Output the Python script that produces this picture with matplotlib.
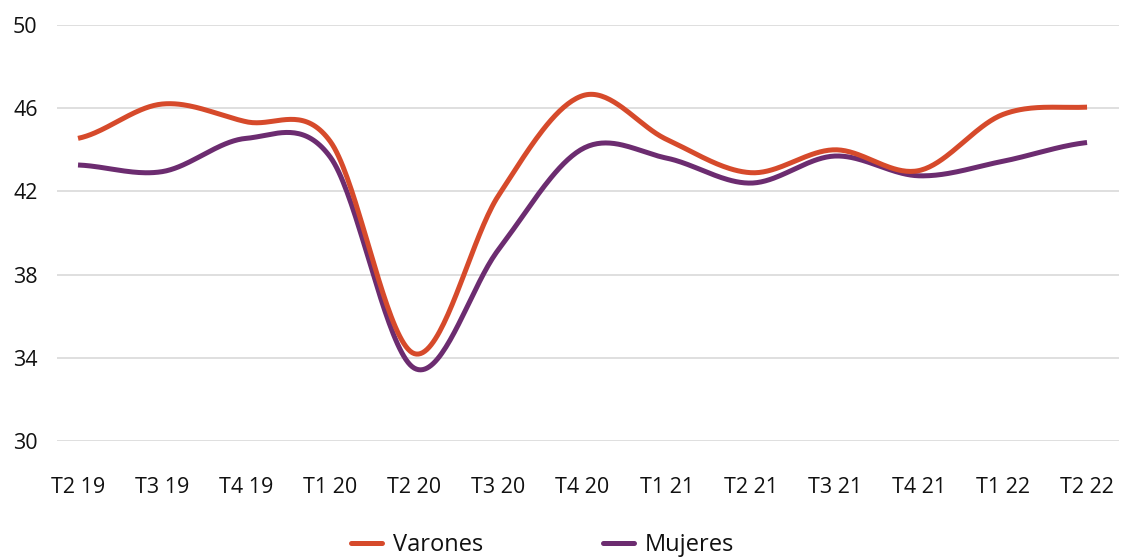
import matplotlib
matplotlib.use("Agg")
import matplotlib.pyplot as plt
import numpy as np

trimestres = ["T2 19", "T3 19", "T4 19", "T1 20", "T2 20", "T3 20", "T4 20",
              "T1 21", "T2 21", "T3 21", "T4 21", "T1 22", "T2 22"]
varones = [44.55, 46.2, 45.35, 44.4, 34.2, 41.8, 46.6, 44.5, 42.9, 44.0, 43.0, 45.7, 46.05]
mujeres = [43.27, 42.95, 44.55, 43.65, 33.5, 39.2, 44.05, 43.6, 42.4, 43.7, 42.75, 43.45, 44.35]

color_varones = "#D64A2B"
color_mujeres = "#6C2C70"


def suavizar(y, pasos=40):
    # curva tipo Catmull-Rom que pasa por todos los puntos (como las líneas suavizadas de Excel)
    y = np.asarray(y, dtype=float)
    n = len(y)
    ext = np.concatenate([[y[0]], y, [y[-1]]])
    xs, ys = [], []
    for i in range(n - 1):
        p0, p1, p2, p3 = ext[i], ext[i + 1], ext[i + 2], ext[i + 3]
        m1 = (p2 - p0) / 2
        m2 = (p3 - p1) / 2
        t = np.linspace(0, 1, pasos, endpoint=(i == n - 2))
        h00 = 2 * t**3 - 3 * t**2 + 1
        h10 = t**3 - 2 * t**2 + t
        h01 = -2 * t**3 + 3 * t**2
        h11 = t**3 - t**2
        xs.append(i + t)
        ys.append(h00 * p1 + h10 * m1 + h01 * p2 + h11 * m2)
    return np.concatenate(xs), np.concatenate(ys)


plt.rcParams['font.family'] = ['Open Sans', 'DejaVu Sans']

fig = plt.figure(figsize=(11.21, 5.59), dpi=100)
ax = fig.add_axes([57 / 1121, 1 - 441 / 559, (1119 - 57) / 1121, (441 - 25) / 559])

xv, yv = suavizar(varones)
xm, ym = suavizar(mujeres)
ax.plot(xv, yv, color=color_varones, lw=3.6, solid_capstyle="butt", label="Varones", zorder=3)
ax.plot(xm, ym, color=color_mujeres, lw=3.6, solid_capstyle="butt", label="Mujeres", zorder=2)

ax.set_ylim(30, 50)
ax.set_yticks([30, 34, 38, 42, 46, 50])
ax.set_xlim(-0.25, 12.38)
ax.set_xticks(range(len(trimestres)))
ax.set_xticklabels(trimestres)

ax.grid(axis="y", color="#D9D9D9", lw=1.2)
ax.set_axisbelow(True)
for s in ax.spines.values():
    s.set_visible(False)
ax.tick_params(axis="both", length=0, labelsize=15.5, colors="#111111")
ax.tick_params(axis="y", pad=14)
ax.tick_params(axis="x", pad=26)

leg = fig.legend(loc="center", bbox_to_anchor=(0.484, 1 - 545 / 559), ncol=2, frameon=False,
                 fontsize=17, handlelength=1.32, handletextpad=0.45, columnspacing=5.1)
for h in leg.get_lines():
    h.set_solid_capstyle("round")
    h.set_linewidth(3.6)
for t in leg.get_texts():
    t.set_color("#111111")

fig.savefig("out.png", dpi=100)
